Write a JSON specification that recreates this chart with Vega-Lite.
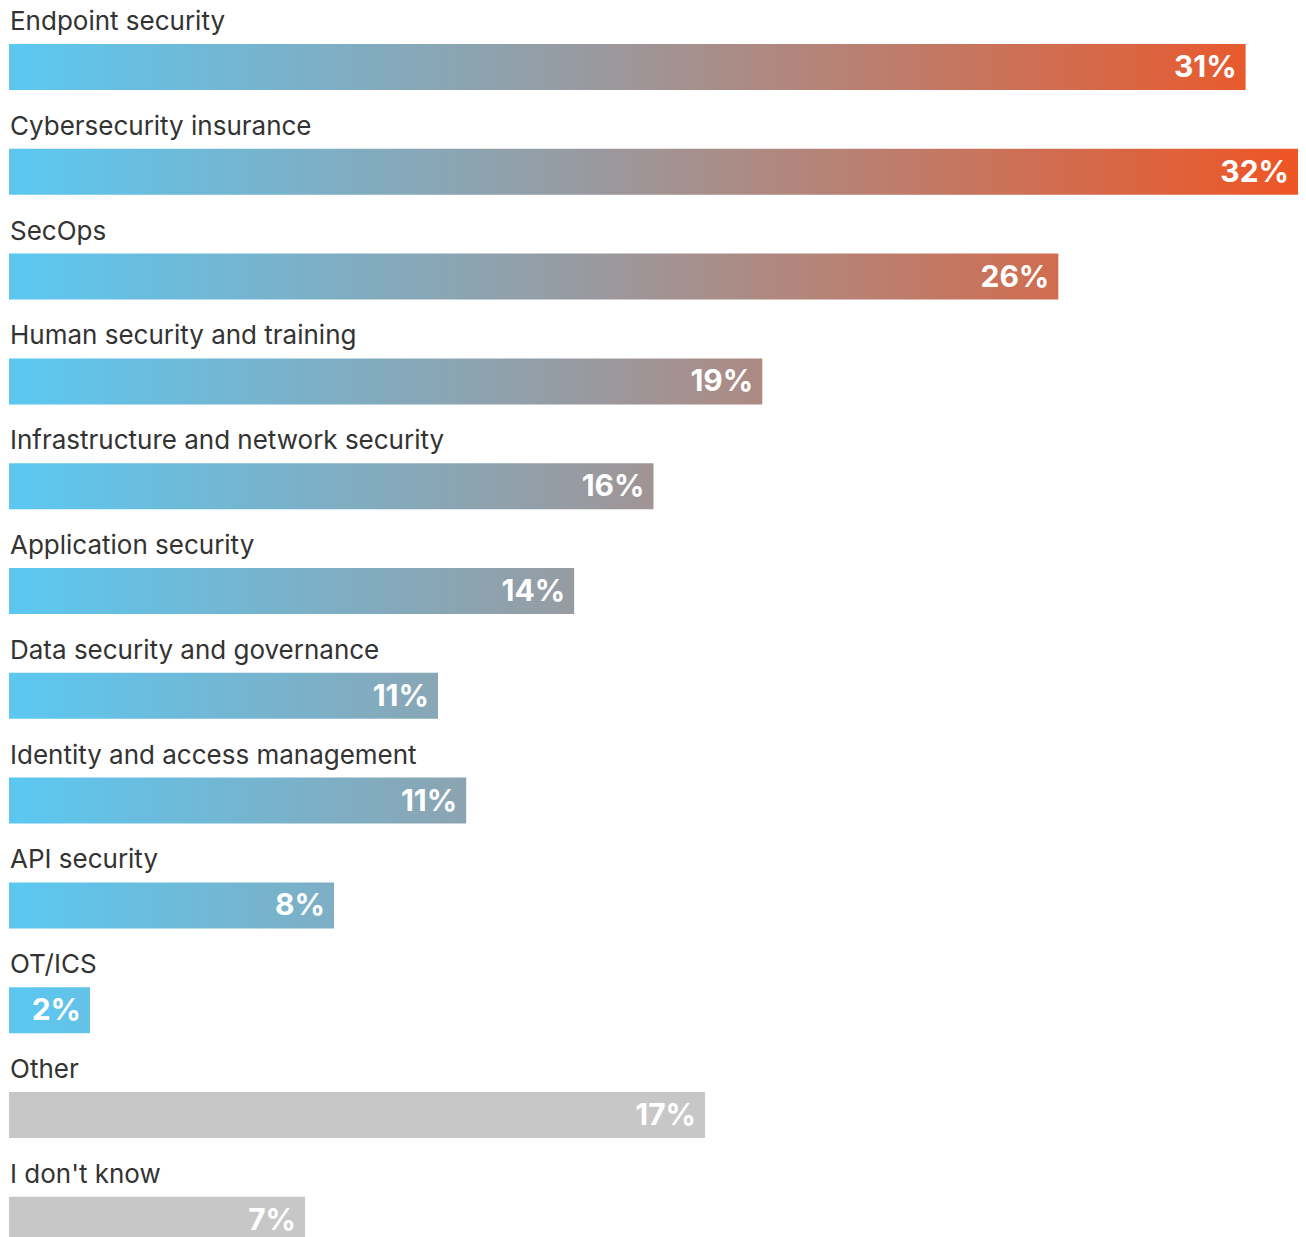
{
  "$schema": "https://vega.github.io/schema/vega-lite/v6.json",
  "autosize": "none",
  "width": 1289,
  "height": 1257.6,
  "padding": {"left": 9, "top": 14.6, "right": 8, "bottom": 0},
  "background": "white",
  "config": {"view": {"stroke": null}},
  "data": {
    "values": [
      {"cat": "Endpoint security", "value": 30.7, "label": "31%", "group": "answer"},
      {"cat": "Cybersecurity insurance", "value": 32.0, "label": "32%", "group": "answer"},
      {"cat": "SecOps", "value": 26.05, "label": "26%", "group": "answer"},
      {"cat": "Human security and training", "value": 18.7, "label": "19%", "group": "answer"},
      {"cat": "Infrastructure and network security", "value": 16.0, "label": "16%", "group": "answer"},
      {"cat": "Application security", "value": 14.03, "label": "14%", "group": "answer"},
      {"cat": "Data security and governance", "value": 10.65, "label": "11%", "group": "answer"},
      {"cat": "Identity and access management", "value": 11.35, "label": "11%", "group": "answer"},
      {"cat": "API security", "value": 8.07, "label": "8%", "group": "answer"},
      {"cat": "OT/ICS", "value": 2.01, "label": "2%", "group": "answer"},
      {"cat": "Other", "value": 17.28, "label": "17%", "group": "other"},
      {"cat": "I don't know", "value": 7.35, "label": "7%", "group": "other"}
    ]
  },
  "transform": [
    {"calculate": "datum.group == 'other' ? '#c7c7c7' : {gradient: 'linear', x1: 0, y1: 0, x2: 32 / datum.value, y2: 0, stops: [{offset: 0, color: '#5bc8f2'}, {offset: 0.45, color: '#999aa0'}, {offset: 1, color: '#ee5525'}]}", "as": "fillc"}
  ],
  "encoding": {
    "y": {"field": "cat", "type": "nominal", "sort": null, "axis": null, "scale": {"paddingInner": 0, "paddingOuter": 0}}
  },
  "layer": [
    {
      "mark": {"type": "bar", "size": 46, "cornerRadius": 0},
      "encoding": {
        "x": {"field": "value", "type": "quantitative", "axis": null, "scale": {"domain": [0, 32], "nice": false, "zero": true}},
        "color": {"field": "fillc", "type": "nominal", "scale": null}
      }
    },
    {
      "mark": {"type": "text", "align": "right", "baseline": "middle", "dx": -9, "dy": 1, "font": "Inter", "fontSize": 30, "fontWeight": "bold", "color": "white", "letterSpacing": 0.5},
      "encoding": {
        "x": {"field": "value", "type": "quantitative"},
        "text": {"field": "label"}
      }
    },
    {
      "mark": {"type": "text", "align": "left", "baseline": "middle", "dx": 1, "dy": -45, "font": "Inter", "fontSize": 26, "color": "#333333"},
      "encoding": {
        "x": {"datum": 0, "type": "quantitative"},
        "text": {"field": "cat"}
      }
    }
  ]
}
